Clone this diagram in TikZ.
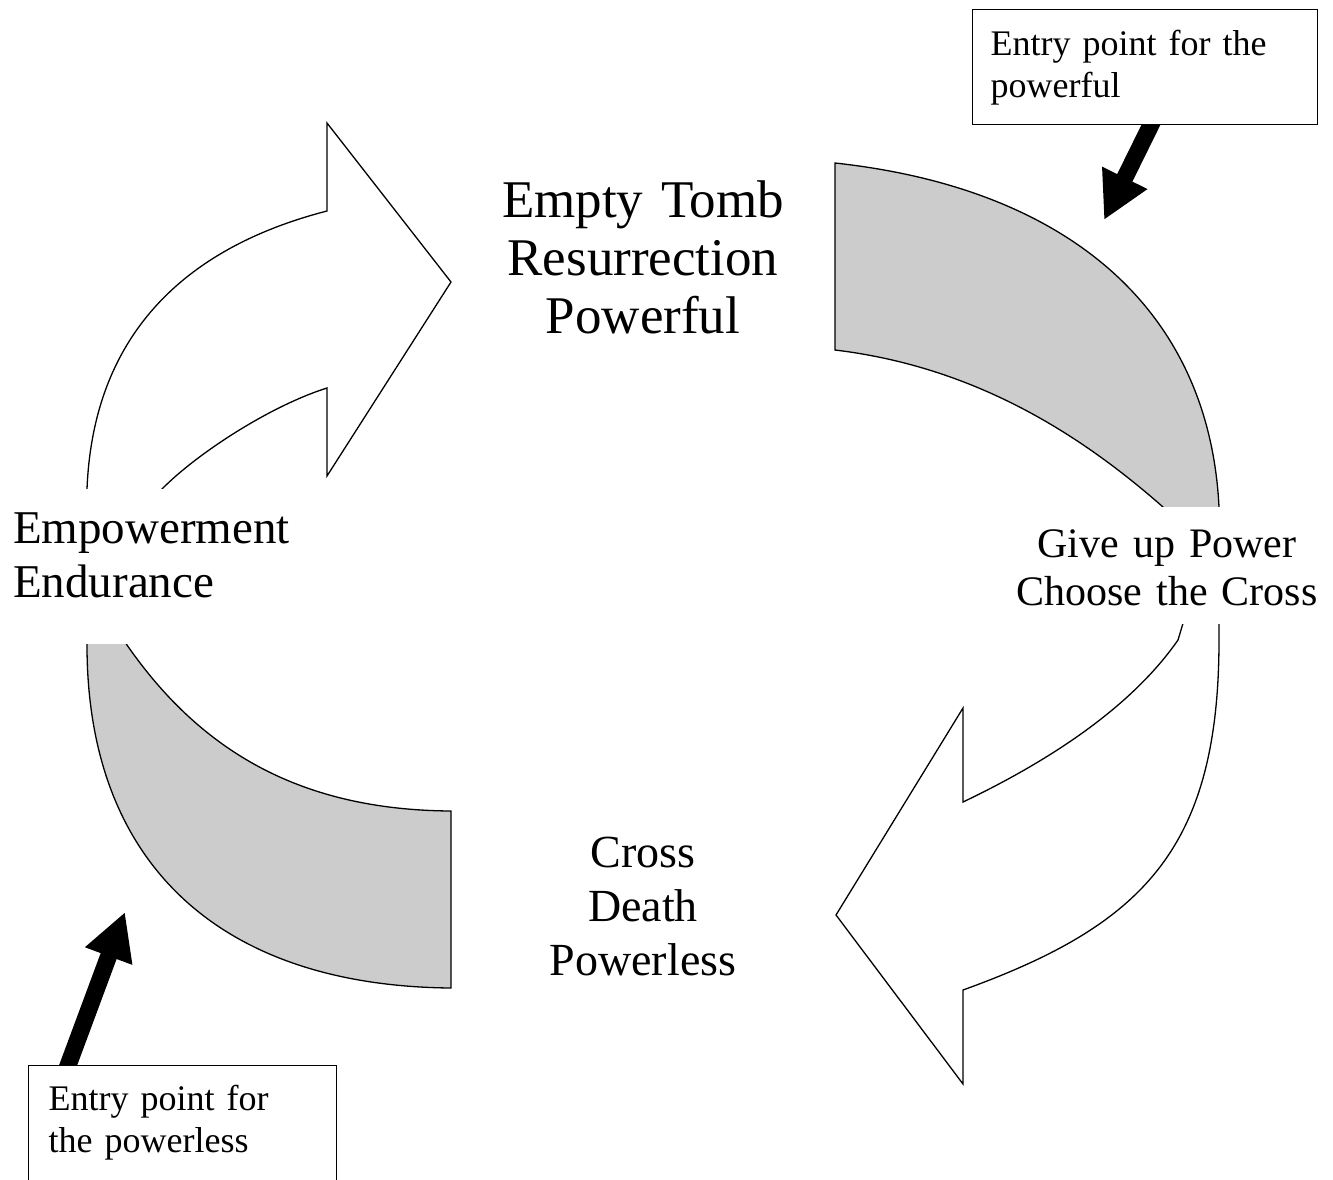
\documentclass[tikz,border=0pt]{standalone}
\usepackage{fontspec}
\setmainfont{Liberation Serif}
\usetikzlibrary{arrows.meta,calc}
\definecolor{bandgray}{HTML}{CCCCCC}
\pgfdeclarelayer{bg}
\pgfsetlayers{bg,main}
\begin{document}
\begin{tikzpicture}[x=1pt,y=-1pt,
  band/.style={fill=bandgray,draw=black,line width=1.3pt,line join=miter},
  curvearrow/.style={fill=white,draw=black,line width=1.3pt,line join=miter},
  cyclelabel/.style={align=center,text width=440pt,inner sep=0pt},
  coverlabel/.style={fill=white,inner sep=0pt},
  entrybox/.style={draw=black,fill=white,line width=1.3pt,inner ysep=0pt,align=left,font=\fontsize{36}{42}\selectfont},
  entryarrow/.style={line width=17pt,-{Triangle[length=47pt,width=47pt]}}
]
\clip (0,0) rectangle (1333,1179);

% top-right grey band
\path[band] (835,163) .. controls (1065,188) and (1209,307) .. (1219,507)
  -- (1219,540) -- (1188,540) -- (1163,507)
  .. controls (1080.5,434.4) and (975,366.8) .. (835,350) -- cycle;

% bottom-right white curved arrow
\path[curvearrow] (1219,600) -- (1219,640)
  .. controls (1219,850) and (1141.6,925.4) .. (963,990)
  -- (963,1084) -- (836,915) -- (963,708) -- (963,802)
  .. controls (1053,759) and (1132.4,705.6) .. (1178,640)
  -- (1190,600) -- cycle;

% bottom-left grey band
\path[band] (87,620) -- (87,645)
  .. controls (87,865) and (221,986) .. (451,988)
  -- (451,811)
  .. controls (301,810) and (201,751.6) .. (127,645)
  -- (112,620) -- cycle;

% top-left white curved arrow
\path[curvearrow] (86,515) -- (87,489)
  .. controls (93.5,329) and (191.2,246) .. (327,211)
  -- (327,123) -- (451,282) -- (327,476) -- (327,388)
  .. controls (270,406) and (197,453.5) .. (162,489)
  -- (140,515) -- cycle;

% labels of the cycle
\node[cyclelabel,anchor=north,text height=58pt,font=\fontsize{53}{58}\selectfont]
  (tomb) at (643,159) {Empty Tomb\\Resurrection\\Powerful};
\node[cyclelabel,anchor=north,text height=54pt,font=\fontsize{46}{54}\selectfont]
  (cross) at (643,813) {Cross\\Death\\Powerless};
\node[coverlabel,anchor=north west,inner xsep=13pt,text width=290pt,align=left,
  text height=54pt,text depth=101pt,font=\fontsize{47}{54}\selectfont]
  (emp) at (0,489) {Empowerment\\Endurance};
\node[coverlabel,anchor=north,text width=340pt,align=center,
  text height=50pt,text depth=67pt,font=\fontsize{42}{48}\selectfont]
  (give) at (1167,507) {Give up Power\\Choose the Cross};

% entry boxes
\node[entrybox,anchor=north west,inner xsep=18pt,text width=309pt,
  text height=46pt,text depth=69pt] (pw) at (972,9) {Entry point for the\\powerful};
\node[entrybox,anchor=north west,inner xsep=20pt,text width=268pt,
  text height=45pt,text depth=100pt] (pl) at (28,1065) {Entry point for\\the powerless};

\coordinate (pwtip) at (1104,220);
\coordinate (pltip) at (125,912);
\begin{pgfonlayer}{bg}
  \draw[entryarrow,shorten <=-10pt] ($(pw.south west)!0.516!(pw.south east)$) -- (pwtip);
  \draw[entryarrow,shorten <=-10pt] ($(pl.north west)!0.13!(pl.north east)$) -- (pltip);
\end{pgfonlayer}
\end{tikzpicture}
\end{document}
